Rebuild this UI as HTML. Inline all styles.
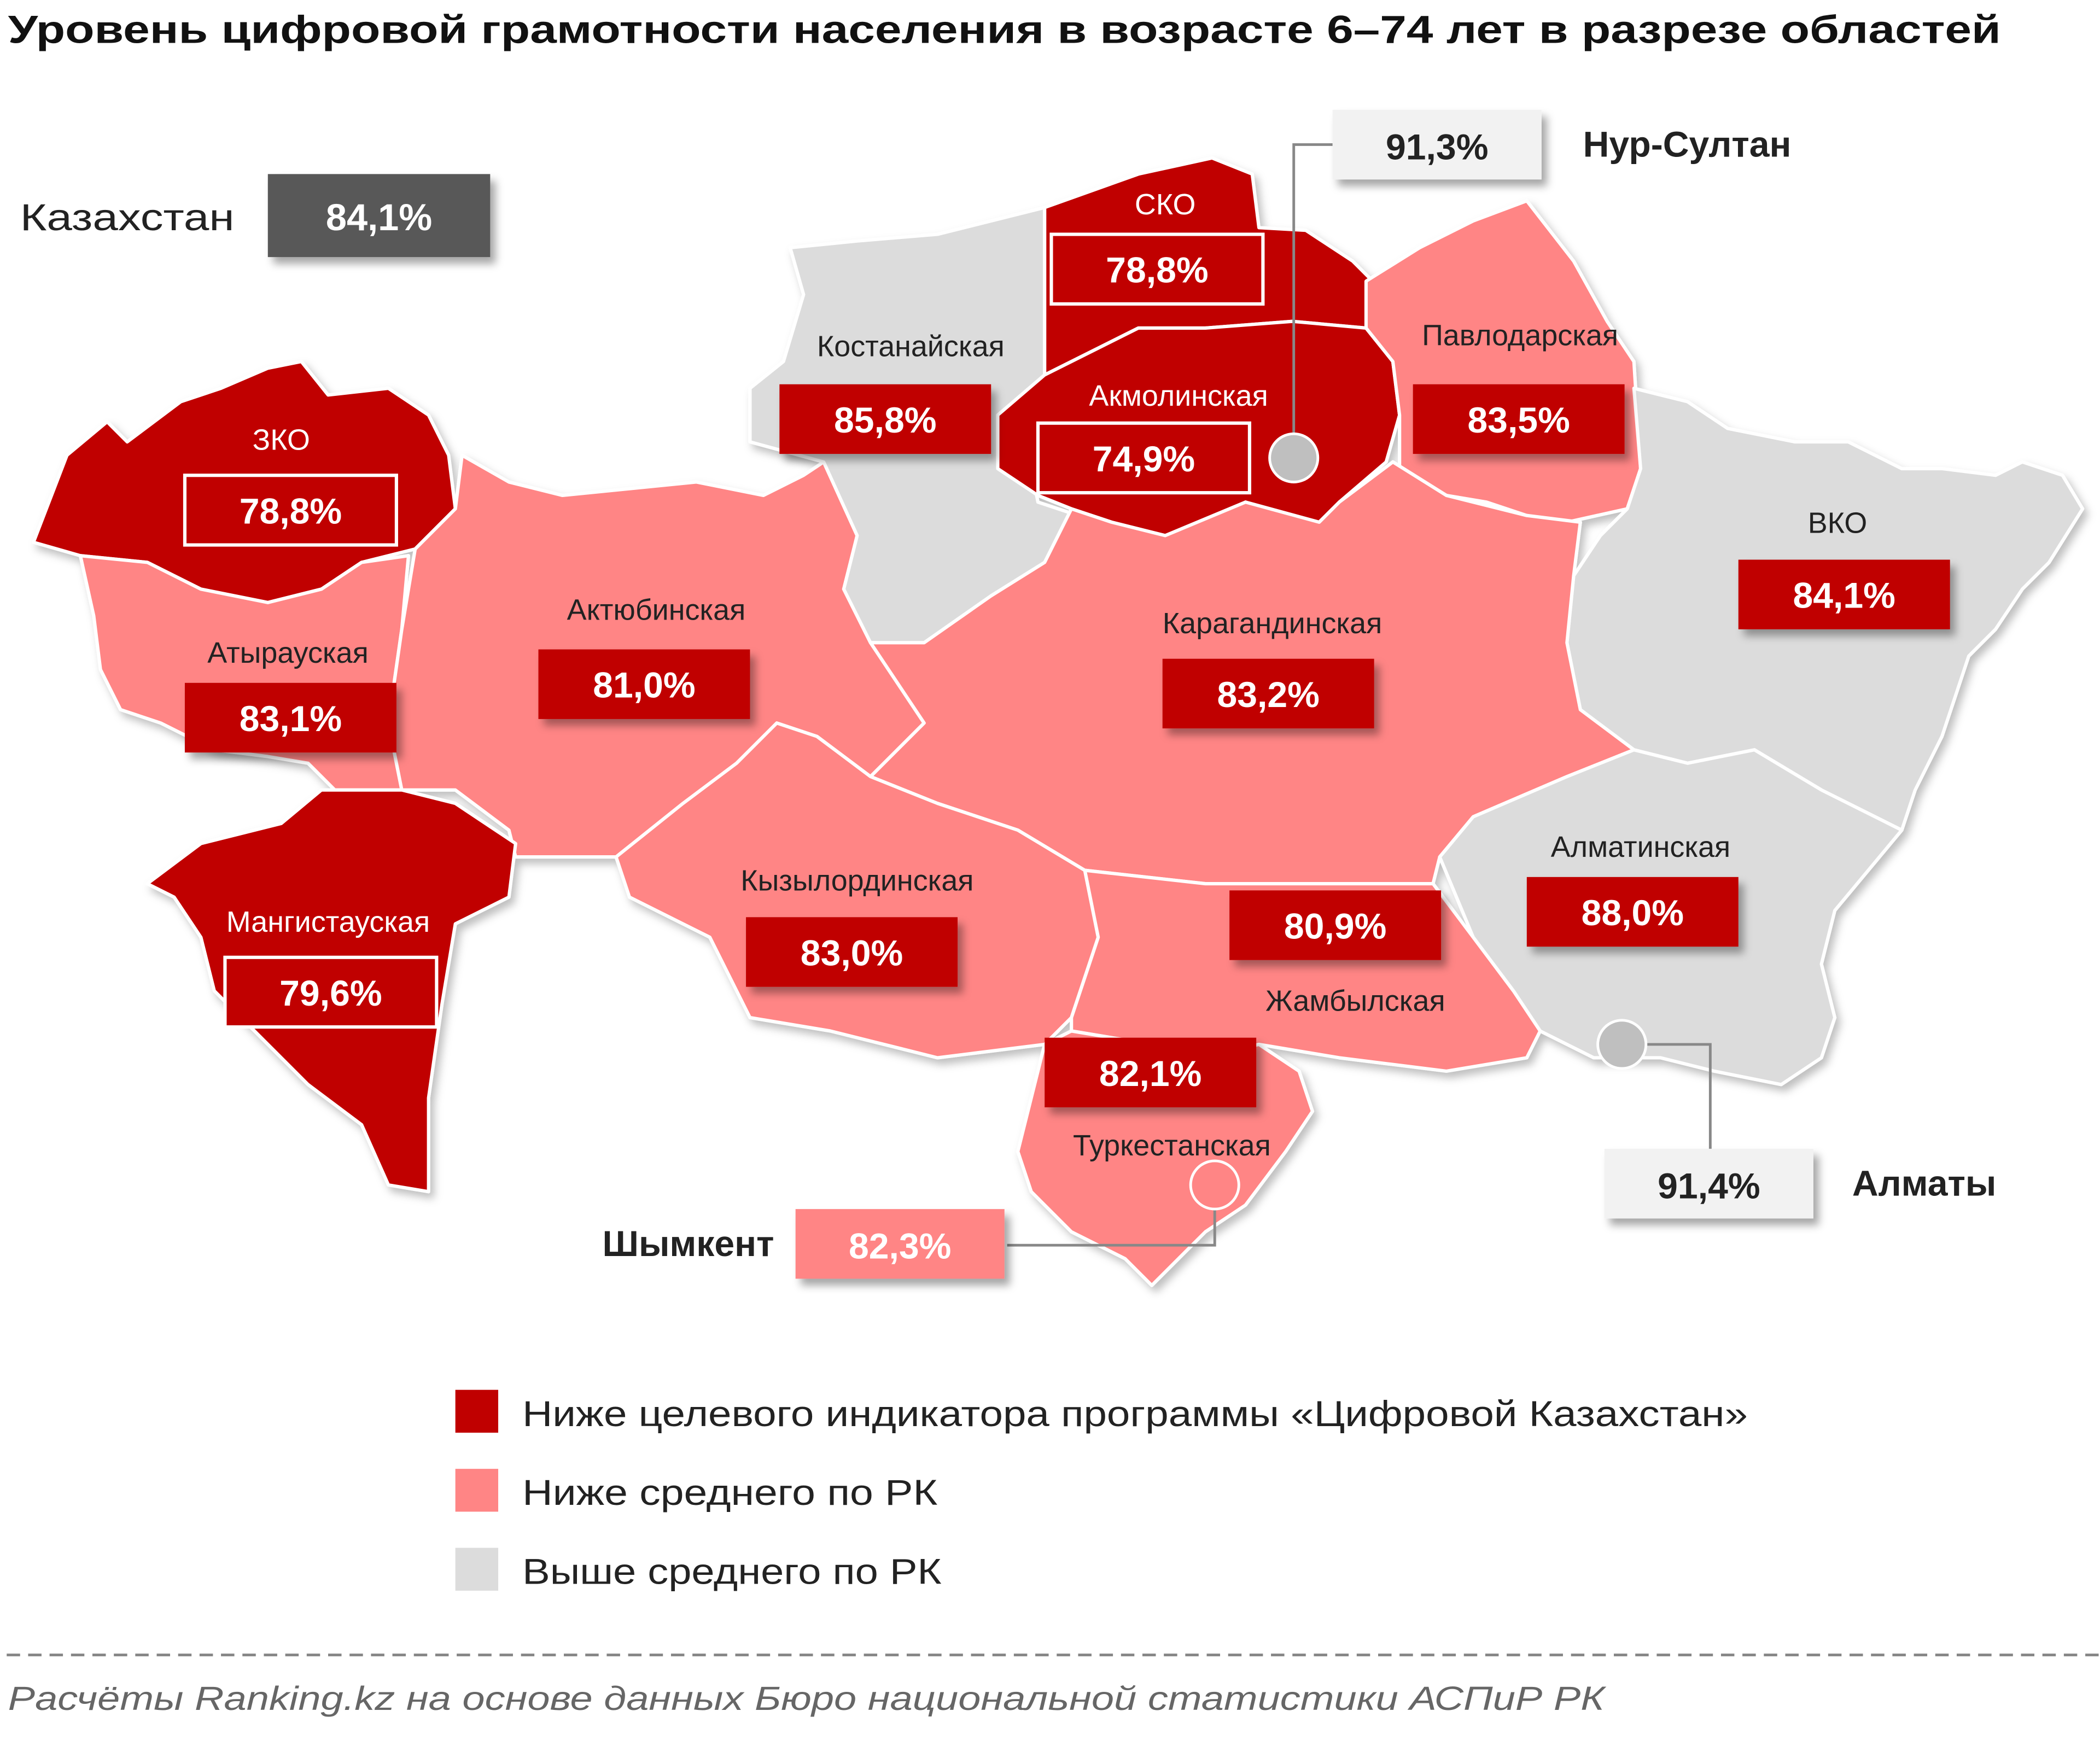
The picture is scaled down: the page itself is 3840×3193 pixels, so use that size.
<!DOCTYPE html>
<html><head><meta charset="utf-8">
<style>
html,body{margin:0;padding:0;background:#fff;}
svg{display:block;}
text{font-family:"Liberation Sans","DejaVu Sans",sans-serif;}
</style></head>
<body>
<svg id="chart" width="3840" height="3193" viewBox="0 0 1568 1304" preserveAspectRatio="none" xmlns="http://www.w3.org/2000/svg">
<defs>
<filter id="sh" x="-20%" y="-20%" width="150%" height="160%"><feDropShadow dx="4" dy="5" stdDeviation="3" flood-color="#000" flood-opacity="0.35"/></filter>
<filter id="msh" x="-5%" y="-5%" width="115%" height="115%"><feDropShadow dx="3" dy="4" stdDeviation="3" flood-color="#000" flood-opacity="0.25"/></filter>
</defs>
<text x="6" y="32" font-size="29" font-weight="bold" fill="#111" textLength="1488" lengthAdjust="spacingAndGlyphs">Уровень цифровой грамотности населения в возрасте 6–74 лет в разрезе областей</text>
<g id="map" filter="url(#msh)"></g>
<g id="labels"></g>
<g id="extra"></g>
</svg>
<script>
// data
const regions = ["ЗКО","Атырауская","Актюбинская","Мангистауская","Костанайская","СКО","Акмолинская","Павлодарская","ВКО","Карагандинская","Алматинская","Кызылординская","Жамбылская","Туркестанская"];
const values = [78.8,83.1,81.0,79.6,85.8,78.8,74.9,83.5,84.1,83.2,88.0,83.0,80.9,82.1];
const national = 84.1;
const target = 80.0;
const cities = ["Нур-Султан","Алматы","Шымкент"];
const cityValues = [91.3,91.4,82.3];
const legendLabels = ["Ниже целевого индикатора программы «Цифровой Казахстан»","Ниже среднего по РК","Выше среднего по РК"];

// layout (not data)
const legendWidths=[915,310,313];
const shapes = {
"ЗКО":[[25,405],[50,340],[80,315],[95,330],[135,300],[165,290],[200,275],[225,270],[245,295],[290,290],[320,310],[335,340],[340,380],[310,410],[270,420],[240,440],[200,450],[150,440],[110,420],[60,415]],
"Атырауская":[[60,415],[110,420],[150,440],[200,450],[240,440],[270,420],[305,415],[300,470],[290,540],[300,590],[250,590],[230,570],[200,565],[160,560],[120,540],[90,530],[75,500],[70,460]],
"Актюбинская":[[310,410],[340,380],[345,340],[380,360],[420,370],[470,365],[520,360],[570,370],[600,355],[615,345],[640,400],[630,440],[650,480],[690,540],[650,580],[610,550],[580,540],[550,570],[510,600],[460,640],[385,640],[380,620],[340,590],[300,590],[290,540],[300,470]],
"Мангистауская":[[110,660],[150,630],[210,615],[240,590],[300,590],[340,600],[385,630],[380,670],[340,690],[330,750],[320,820],[320,890],[290,885],[270,840],[230,810],[190,770],[160,740],[150,700],[130,670]],
"Костанайская":[[590,185],[640,180],[700,175],[740,165],[780,155],[780,280],[745,310],[745,345],[770,350],[775,375],[820,390],[780,420],[740,445],[690,480],[650,480],[630,440],[640,400],[615,345],[560,330],[560,290],[585,270],[600,220]],
"СКО":[[780,155],[850,130],[905,118],[935,130],[940,170],[975,172],[1010,195],[1030,215],[1020,245],[965,240],[900,245],[850,245],[780,280]],
"Акмолинская":[[780,280],[850,245],[900,245],[965,240],[1020,245],[1040,270],[1045,310],[1035,345],[1000,375],[985,390],[960,395],[930,375],[900,400],[870,400],[830,390],[800,380],[775,370],[745,350],[745,310]],
"Павлодарская":[[1020,210],[1060,185],[1100,165],[1140,150],[1175,195],[1200,240],[1220,270],[1225,350],[1215,380],[1170,390],[1140,385],[1110,375],[1080,370],[1045,350],[1045,310],[1040,270],[1020,245]],
"ВКО":[[1215,380],[1225,350],[1220,290],[1260,300],[1290,320],[1340,330],[1380,330],[1420,350],[1450,350],[1490,355],[1510,345],[1540,355],[1555,380],[1530,420],[1510,440],[1490,470],[1470,490],[1450,550],[1430,590],[1420,620],[1400,610],[1360,590],[1310,560],[1260,570],[1220,560],[1180,530],[1170,480],[1175,430],[1195,400]],
"Карагандинская":[[800,380],[830,390],[870,400],[930,375],[985,390],[1000,375],[1040,345],[1080,370],[1140,385],[1180,390],[1175,430],[1170,480],[1180,530],[1220,560],[1170,580],[1100,610],[1075,640],[1070,660],[1000,660],[900,660],[810,650],[760,620],[700,600],[650,580],[690,540],[650,480],[690,480],[740,445],[780,420]],
"Алматинская":[[1075,640],[1100,610],[1170,580],[1220,560],[1260,570],[1310,560],[1360,590],[1400,610],[1420,620],[1370,680],[1360,720],[1370,760],[1360,790],[1330,810],[1280,800],[1240,790],[1190,790],[1150,770],[1130,740],[1100,700]],
"Кызылординская":[[460,640],[510,600],[550,570],[580,540],[610,550],[650,580],[700,600],[760,620],[810,650],[820,700],[800,760],[780,780],[700,790],[620,770],[560,760],[530,700],[470,670]],
"Жамбылская":[[810,650],[900,660],[1000,660],[1070,660],[1100,700],[1130,740],[1150,770],[1140,790],[1080,800],[1000,790],[940,780],[900,790],[860,780],[800,770],[800,760],[820,700]],
"Туркестанская":[[780,780],[800,770],[860,780],[900,790],[940,780],[970,800],[980,830],[960,860],[930,900],[900,920],[880,940],[860,960],[840,940],[800,920],[770,890],[760,860],[770,820]]
};
const boxPos = {"ЗКО":[138,355,210,328],"Атырауская":[138,510,215,487],"Актюбинская":[402,485,490,455],"Мангистауская":[168,715,245,688],"Костанайская":[582,287,680,258],"СКО":[785,175,870,152],"Акмолинская":[775,316,880,295],"Павлодарская":[1055,287,1135,250],"ВКО":[1298,418,1372,390],"Карагандинская":[868,492,950,465],"Алматинская":[1140,655,1225,632],"Кызылординская":[557,685,640,657],"Жамбылская":[918,665,1012,747],"Туркестанская":[780,775,875,855]};
const DARK="#c00000", PINK="#ff8585", GRAY="#dcdcdc";
const NS="http://www.w3.org/2000/svg";
function mk(tag,attrs,parent){const e=document.createElementNS(NS,tag);for(const k in attrs)e.setAttribute(k,attrs[k]);parent.appendChild(e);return e;}
function cat(v){return v<target?0:(v<national?1:2);}
const catColor=[DARK,PINK,GRAY];
const fmt=v=>v.toFixed(1).replace('.',',')+'%';
const map=document.getElementById('map'), labels=document.getElementById('labels'), extra=document.getElementById('extra');
const slug={"ЗКО":"zko","Атырауская":"atyrau","Актюбинская":"aktobe","Мангистауская":"mangystau","Костанайская":"kostanay","СКО":"sko","Акмолинская":"akmola","Павлодарская":"pavlodar","ВКО":"vko","Карагандинская":"karaganda","Алматинская":"almaty-region","Кызылординская":"kyzylorda","Жамбылская":"zhambyl","Туркестанская":"turkestan"};
regions.forEach((r,i)=>{
  const c=cat(values[i]);
  const p=mk('polygon',{points:shapes[r].map(q=>q.join(',')).join(' '),fill:catColor[c],stroke:'#fff','stroke-width':2.5,'stroke-linejoin':'round'},map);
  
  
  const b=boxPos[r];
  const nm=mk('text',{x:b[2],y:b[3]+8,'font-size':22,'text-anchor':'middle',fill:c===0?'#fff':'#222'},labels);
  nm.textContent=r;
  
  
  const g=mk('g',{},labels);
  
  
  const attrs={x:b[0],y:b[1],width:158,height:52,fill:DARK};
  if(c===0){attrs.stroke='#fff';attrs['stroke-width']=2.5;}else{attrs.filter='url(#sh)';}
  mk('rect',attrs,g);
  const t=mk('text',{x:b[0]+79,y:b[1]+36,'font-size':27,'font-weight':'bold','text-anchor':'middle',fill:'#fff'},g);
  t.textContent=fmt(values[i]);
});
// national
let t=mk('text',{x:15,y:172,'font-size':28,fill:'#222',textLength:160,lengthAdjust:'spacingAndGlyphs'},extra);t.textContent="Казахстан";


let g=mk('g',{},extra);


mk('rect',{x:200,y:130,width:166,height:62,fill:'#595959',filter:'url(#sh)'},g);
t=mk('text',{x:283,y:172,'font-size':28,'font-weight':'bold','text-anchor':'middle',fill:'#fff'},g);t.textContent=fmt(national);
// cities
const cityLayout=[
 {box:[995,82],lbl:[1182,117],anchor:'start',circ:[966,342],line:[[966,324],[966,108],[995,108]],fill:'#f2f2f2',tc:'#222'},
 {box:[1198,858],lbl:[1383,893],anchor:'start',circ:[1211,780],line:[[1229,780],[1277,780],[1277,858]],fill:'#f2f2f2',tc:'#222'},
 {box:[594,903],lbl:[578,938],anchor:'end',circ:[907,885],line:[[907,903],[907,930],[752,930]],fill:PINK,tc:'#fff'}];
const cslug=["nur-sultan","almaty","shymkent"];
cities.forEach((cn,i)=>{
  const L=cityLayout[i];
  const ln=mk('polyline',{points:L.line.map(q=>q.join(',')).join(' '),fill:'none',stroke:'#888','stroke-width':2},extra);
  
  
  const ci=mk('circle',{cx:L.circ[0],cy:L.circ[1],r:18,fill:i===2?PINK:'#bfbfbf',stroke:'#fff','stroke-width':2},extra);
  
  
  const gg=mk('g',{},extra);
  
  
  mk('rect',{x:L.box[0],y:L.box[1],width:156,height:52,fill:L.fill,filter:'url(#sh)'},gg);
  const vt=mk('text',{x:L.box[0]+78,y:L.box[1]+37,'font-size':27,'font-weight':'bold','text-anchor':'middle',fill:L.tc},gg);
  vt.textContent=fmt(cityValues[i]);
  const nt=mk('text',{x:L.lbl[0],y:L.lbl[1],'font-size':27,'font-weight':'bold','text-anchor':L.anchor,fill:'#222'},extra);
  nt.textContent=cn;
  
  
});
// legend
legendLabels.forEach((l,i)=>{
  const gg=mk('g',{},extra);
  
  
  const y=1038+i*59;
  mk('rect',{x:340,y:y,width:32,height:32,fill:catColor[i]},gg);
  const lt=mk('text',{x:390,y:y+27,'font-size':27,fill:'#222',textLength:legendWidths[i],lengthAdjust:'spacingAndGlyphs'},gg);
  lt.textContent=l;
});
const dl=mk('line',{x1:5,y1:1236,x2:1568,y2:1236,stroke:'#888','stroke-width':2,'stroke-dasharray':'10,6'},extra);


const src=mk('text',{x:6,y:1277,'font-size':25,'font-style':'italic',fill:'#666',textLength:1192,lengthAdjust:'spacingAndGlyphs'},extra);
src.textContent="Расчёты Ranking.kz на основе данных Бюро национальной статистики АСПиР РК";


</script>
</body></html>
